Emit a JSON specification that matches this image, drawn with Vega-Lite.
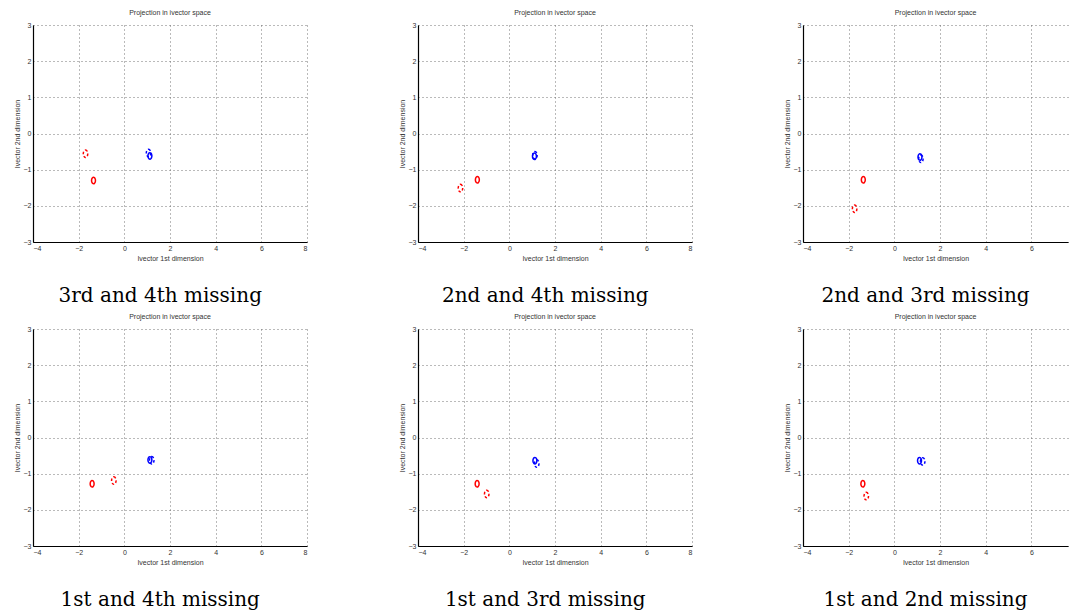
{
  "$schema": "https://vega.github.io/schema/vega-lite/v6.json",
  "background": "white",
  "padding": {"left": 13, "top": 9, "right": 5, "bottom": 5},
  "config": {
    "view": {"stroke": null},
    "title": {"anchor": "middle"},
    "axis": {
      "labelFont": "Liberation Sans", "labelFontSize": 7, "labelColor": "#333",
      "titleFont": "Liberation Sans", "titleFontSize": 7, "titleFontWeight": "normal", "titleColor": "#333",
      "titlePadding": 3, "labelPadding": 2, "tickSize": 0,
      "grid": true, "gridDash": [1, 3], "gridColor": "#666", "gridWidth": 1, "gridOpacity": 0.9,
      "domainColor": "#000", "domainWidth": 1.2
    }
  },
  "data": {"values": [
    {"panel": 1, "cls": "A", "kind": "full", "x": -1.35, "y": -1.3},
    {"panel": 1, "cls": "A", "kind": "missing", "x": -1.7, "y": -0.56},
    {"panel": 1, "cls": "B", "kind": "full", "x": 1.12, "y": -0.62},
    {"panel": 1, "cls": "B", "kind": "missing", "x": 1.06, "y": -0.54},
    {"panel": 2, "cls": "A", "kind": "full", "x": -1.4, "y": -1.28},
    {"panel": 2, "cls": "A", "kind": "missing", "x": -2.14, "y": -1.51},
    {"panel": 2, "cls": "B", "kind": "full", "x": 1.1, "y": -0.63},
    {"panel": 2, "cls": "B", "kind": "missing", "x": 1.12, "y": -0.6},
    {"panel": 3, "cls": "A", "kind": "full", "x": -1.36, "y": -1.28},
    {"panel": 3, "cls": "A", "kind": "missing", "x": -1.74, "y": -2.08},
    {"panel": 3, "cls": "B", "kind": "full", "x": 1.12, "y": -0.65},
    {"panel": 3, "cls": "B", "kind": "missing", "x": 1.16, "y": -0.7},
    {"panel": 4, "cls": "A", "kind": "full", "x": -1.41, "y": -1.28},
    {"panel": 4, "cls": "A", "kind": "missing", "x": -0.46, "y": -1.19},
    {"panel": 4, "cls": "B", "kind": "full", "x": 1.12, "y": -0.62},
    {"panel": 4, "cls": "B", "kind": "missing", "x": 1.2, "y": -0.63},
    {"panel": 5, "cls": "A", "kind": "full", "x": -1.41, "y": -1.28},
    {"panel": 5, "cls": "A", "kind": "missing", "x": -0.99, "y": -1.56},
    {"panel": 5, "cls": "B", "kind": "full", "x": 1.12, "y": -0.64},
    {"panel": 5, "cls": "B", "kind": "missing", "x": 1.2, "y": -0.72},
    {"panel": 6, "cls": "A", "kind": "full", "x": -1.38, "y": -1.28},
    {"panel": 6, "cls": "A", "kind": "missing", "x": -1.23, "y": -1.62},
    {"panel": 6, "cls": "B", "kind": "full", "x": 1.1, "y": -0.64},
    {"panel": 6, "cls": "B", "kind": "missing", "x": 1.24, "y": -0.66}
  ]},
  "spacing": 7,
  "resolve": {"scale": {"x": "independent", "y": "independent"}},
  "vconcat": [
    {
      "spacing": 90,
      "resolve": {"scale": {"x": "independent", "y": "independent"}},
      "hconcat": [
        {
          "title": {"text": "3rd and 4th missing", "orient": "bottom", "anchor": "middle", "font": "DejaVu Serif", "fontSize": 20, "fontWeight": "normal", "color": "#000", "offset": 25},
          "vconcat": [{
            "title": {"text": "Projection in ivector space", "anchor": "middle", "font": "Liberation Sans", "fontSize": 7, "fontWeight": "normal", "color": "#333", "offset": 5},
            "width": 274, "height": 217,
            "transform": [{"filter": "datum.panel === 1"}],
            "mark": {"type": "point", "shape": "M0,-1A0.6,1,0,1,1,0,1A0.6,1,0,1,1,0,-1Z", "filled": false, "strokeWidth": 1.5, "opacity": 1},
            "encoding": {
              "x": {"field": "x", "type": "quantitative", "scale": {"domain": [-4, 8], "nice": false, "zero": false}, "axis": {"title": "Ivector 1st dimension", "values": [-4, -2, 0, 2, 4, 6, 8]}},
              "y": {"field": "y", "type": "quantitative", "scale": {"domain": [-3, 3], "nice": false, "zero": false}, "axis": {"title": "Ivector 2nd dimension", "values": [-3, -2, -1, 0, 1, 2, 3]}},
              "color": {"field": "cls", "type": "nominal", "scale": {"domain": ["A", "B"], "range": ["#ff0000", "#0000ff"]}, "legend": null},
              "strokeDash": {"field": "kind", "type": "nominal", "scale": {"domain": ["full", "missing"], "range": [[1, 0], [2.5, 2]]}, "legend": null},
              "size": {"field": "kind", "type": "nominal", "scale": {"domain": ["full", "missing"], "range": [42, 56]}, "legend": null}
            }
          }]
        },
        {
          "title": {"text": "2nd and 4th missing", "orient": "bottom", "anchor": "middle", "font": "DejaVu Serif", "fontSize": 20, "fontWeight": "normal", "color": "#000", "offset": 25},
          "vconcat": [{
            "title": {"text": "Projection in ivector space", "anchor": "middle", "font": "Liberation Sans", "fontSize": 7, "fontWeight": "normal", "color": "#333", "offset": 5},
            "width": 274, "height": 217,
            "transform": [{"filter": "datum.panel === 2"}],
            "mark": {"type": "point", "shape": "M0,-1A0.6,1,0,1,1,0,1A0.6,1,0,1,1,0,-1Z", "filled": false, "strokeWidth": 1.5, "opacity": 1},
            "encoding": {
              "x": {"field": "x", "type": "quantitative", "scale": {"domain": [-4, 8], "nice": false, "zero": false}, "axis": {"title": "Ivector 1st dimension", "values": [-4, -2, 0, 2, 4, 6, 8]}},
              "y": {"field": "y", "type": "quantitative", "scale": {"domain": [-3, 3], "nice": false, "zero": false}, "axis": {"title": "Ivector 2nd dimension", "values": [-3, -2, -1, 0, 1, 2, 3]}},
              "color": {"field": "cls", "type": "nominal", "scale": {"domain": ["A", "B"], "range": ["#ff0000", "#0000ff"]}, "legend": null},
              "strokeDash": {"field": "kind", "type": "nominal", "scale": {"domain": ["full", "missing"], "range": [[1, 0], [2.5, 2]]}, "legend": null},
              "size": {"field": "kind", "type": "nominal", "scale": {"domain": ["full", "missing"], "range": [42, 56]}, "legend": null}
            }
          }]
        },
        {
          "title": {"text": "2nd and 3rd missing", "orient": "bottom", "anchor": "middle", "font": "DejaVu Serif", "fontSize": 20, "fontWeight": "normal", "color": "#000", "offset": 25},
          "vconcat": [{
            "title": {"text": "Projection in ivector space", "anchor": "middle", "font": "Liberation Sans", "fontSize": 7, "fontWeight": "normal", "color": "#333", "offset": 5},
            "width": 265, "height": 217,
            "transform": [{"filter": "datum.panel === 3"}],
            "mark": {"type": "point", "shape": "M0,-1A0.6,1,0,1,1,0,1A0.6,1,0,1,1,0,-1Z", "filled": false, "strokeWidth": 1.5, "opacity": 1},
            "encoding": {
              "x": {"field": "x", "type": "quantitative", "scale": {"domain": [-4, 7.6], "nice": false, "zero": false}, "axis": {"title": "Ivector 1st dimension", "values": [-4, -2, 0, 2, 4, 6]}},
              "y": {"field": "y", "type": "quantitative", "scale": {"domain": [-3, 3], "nice": false, "zero": false}, "axis": {"title": "Ivector 2nd dimension", "values": [-3, -2, -1, 0, 1, 2, 3]}},
              "color": {"field": "cls", "type": "nominal", "scale": {"domain": ["A", "B"], "range": ["#ff0000", "#0000ff"]}, "legend": null},
              "strokeDash": {"field": "kind", "type": "nominal", "scale": {"domain": ["full", "missing"], "range": [[1, 0], [2.5, 2]]}, "legend": null},
              "size": {"field": "kind", "type": "nominal", "scale": {"domain": ["full", "missing"], "range": [42, 56]}, "legend": null}
            }
          }]
        }
      ]
    },
    {
      "spacing": 90,
      "resolve": {"scale": {"x": "independent", "y": "independent"}},
      "hconcat": [
        {
          "title": {"text": "1st and 4th missing", "orient": "bottom", "anchor": "middle", "font": "DejaVu Serif", "fontSize": 20, "fontWeight": "normal", "color": "#000", "offset": 25},
          "vconcat": [{
            "title": {"text": "Projection in ivector space", "anchor": "middle", "font": "Liberation Sans", "fontSize": 7, "fontWeight": "normal", "color": "#333", "offset": 5},
            "width": 274, "height": 217,
            "transform": [{"filter": "datum.panel === 4"}],
            "mark": {"type": "point", "shape": "M0,-1A0.6,1,0,1,1,0,1A0.6,1,0,1,1,0,-1Z", "filled": false, "strokeWidth": 1.5, "opacity": 1},
            "encoding": {
              "x": {"field": "x", "type": "quantitative", "scale": {"domain": [-4, 8], "nice": false, "zero": false}, "axis": {"title": "Ivector 1st dimension", "values": [-4, -2, 0, 2, 4, 6, 8]}},
              "y": {"field": "y", "type": "quantitative", "scale": {"domain": [-3, 3], "nice": false, "zero": false}, "axis": {"title": "Ivector 2nd dimension", "values": [-3, -2, -1, 0, 1, 2, 3]}},
              "color": {"field": "cls", "type": "nominal", "scale": {"domain": ["A", "B"], "range": ["#ff0000", "#0000ff"]}, "legend": null},
              "strokeDash": {"field": "kind", "type": "nominal", "scale": {"domain": ["full", "missing"], "range": [[1, 0], [2.5, 2]]}, "legend": null},
              "size": {"field": "kind", "type": "nominal", "scale": {"domain": ["full", "missing"], "range": [42, 56]}, "legend": null}
            }
          }]
        },
        {
          "title": {"text": "1st and 3rd missing", "orient": "bottom", "anchor": "middle", "font": "DejaVu Serif", "fontSize": 20, "fontWeight": "normal", "color": "#000", "offset": 25},
          "vconcat": [{
            "title": {"text": "Projection in ivector space", "anchor": "middle", "font": "Liberation Sans", "fontSize": 7, "fontWeight": "normal", "color": "#333", "offset": 5},
            "width": 274, "height": 217,
            "transform": [{"filter": "datum.panel === 5"}],
            "mark": {"type": "point", "shape": "M0,-1A0.6,1,0,1,1,0,1A0.6,1,0,1,1,0,-1Z", "filled": false, "strokeWidth": 1.5, "opacity": 1},
            "encoding": {
              "x": {"field": "x", "type": "quantitative", "scale": {"domain": [-4, 8], "nice": false, "zero": false}, "axis": {"title": "Ivector 1st dimension", "values": [-4, -2, 0, 2, 4, 6, 8]}},
              "y": {"field": "y", "type": "quantitative", "scale": {"domain": [-3, 3], "nice": false, "zero": false}, "axis": {"title": "Ivector 2nd dimension", "values": [-3, -2, -1, 0, 1, 2, 3]}},
              "color": {"field": "cls", "type": "nominal", "scale": {"domain": ["A", "B"], "range": ["#ff0000", "#0000ff"]}, "legend": null},
              "strokeDash": {"field": "kind", "type": "nominal", "scale": {"domain": ["full", "missing"], "range": [[1, 0], [2.5, 2]]}, "legend": null},
              "size": {"field": "kind", "type": "nominal", "scale": {"domain": ["full", "missing"], "range": [42, 56]}, "legend": null}
            }
          }]
        },
        {
          "title": {"text": "1st and 2nd missing", "orient": "bottom", "anchor": "middle", "font": "DejaVu Serif", "fontSize": 20, "fontWeight": "normal", "color": "#000", "offset": 25},
          "vconcat": [{
            "title": {"text": "Projection in ivector space", "anchor": "middle", "font": "Liberation Sans", "fontSize": 7, "fontWeight": "normal", "color": "#333", "offset": 5},
            "width": 265, "height": 217,
            "transform": [{"filter": "datum.panel === 6"}],
            "mark": {"type": "point", "shape": "M0,-1A0.6,1,0,1,1,0,1A0.6,1,0,1,1,0,-1Z", "filled": false, "strokeWidth": 1.5, "opacity": 1},
            "encoding": {
              "x": {"field": "x", "type": "quantitative", "scale": {"domain": [-4, 7.6], "nice": false, "zero": false}, "axis": {"title": "Ivector 1st dimension", "values": [-4, -2, 0, 2, 4, 6]}},
              "y": {"field": "y", "type": "quantitative", "scale": {"domain": [-3, 3], "nice": false, "zero": false}, "axis": {"title": "Ivector 2nd dimension", "values": [-3, -2, -1, 0, 1, 2, 3]}},
              "color": {"field": "cls", "type": "nominal", "scale": {"domain": ["A", "B"], "range": ["#ff0000", "#0000ff"]}, "legend": null},
              "strokeDash": {"field": "kind", "type": "nominal", "scale": {"domain": ["full", "missing"], "range": [[1, 0], [2.5, 2]]}, "legend": null},
              "size": {"field": "kind", "type": "nominal", "scale": {"domain": ["full", "missing"], "range": [42, 56]}, "legend": null}
            }
          }]
        }
      ]
    }
  ]
}
